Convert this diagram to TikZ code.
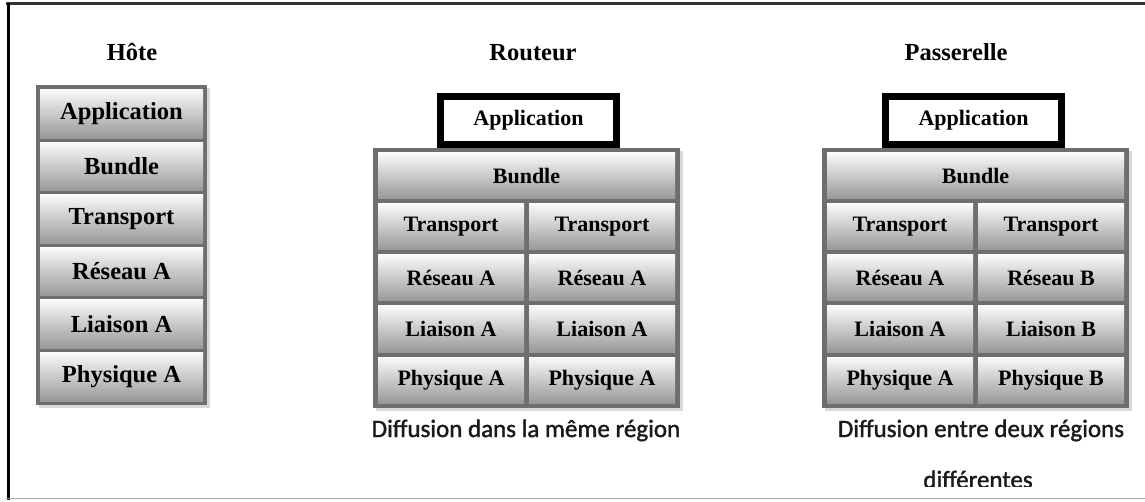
\documentclass[tikz,border=0pt]{standalone}
\usepackage{fontspec}
\setmainfont{Liberation Serif}
\newfontfamily\capfont[FakeBold=1.5]{Carlito}
\usetikzlibrary{shadows}

\definecolor{frameg}{HTML}{6E6E6E}
\definecolor{celltop}{HTML}{FAFAFA}
\definecolor{cellmid}{HTML}{E0E0E0}
\definecolor{cellbot}{HTML}{989898}
\definecolor{captxt}{HTML}{1A1A1A}

\tikzset{
  stackframe/.style={fill=frameg, draw=none, inner sep=0pt, outer sep=0pt,
    drop shadow={shadow xshift=3pt, shadow yshift=-3pt, opacity=0.3}},
  cell/.style={inner sep=0pt, outer sep=0pt, top color=celltop, middle color=cellmid,
    bottom color=cellbot, text=black, minimum width=146pt, minimum height=46pt,
    font=\bfseries\fontsize{22}{24}\selectfont},
  widecell/.style={cell, minimum width=297pt},
  hostcell/.style={cell, minimum width=163pt, minimum height=48.6pt,
    font=\bfseries\fontsize{24.5}{28}\selectfont},
  appbox/.style={draw=black, line width=7pt, fill=white, inner sep=0pt,
    minimum width=176pt, minimum height=48pt,
    font=\bfseries\fontsize{22}{24}\selectfont},
  title/.style={font=\bfseries\fontsize{24.5}{28}\selectfont, anchor=base, inner sep=0pt},
  caption/.style={font=\capfont\fontsize{25}{30}\selectfont, text=captxt,
    anchor=base, inner sep=0pt},
}

\begin{document}
\begin{tikzpicture}[x=1pt,y=-1pt]
\useasboundingbox (0,0) rectangle (1145,502);

% page frame
\draw[line width=3pt, black!80] (6,4) -- (1145,4);
\draw[line width=3pt, black] (8,3) -- (8,500);
\draw[line width=1.2pt, black!35] (6,498.5) -- (1145,498.5);

% ---------- Host ----------
\node[title] (tHote) at (132,61) {Hôte};
\node[stackframe, minimum width=171pt, minimum height=319.6pt] (hStack) at (121.5,245.3) {};
\node[hostcell] (hApp) at (121.5,113.8) {Application};
\node[hostcell] (hBun) at (121.5,166.4) {Bundle};
\node[hostcell] (hTra) at (121.5,219.0) {Transport};
\node[hostcell] (hRes) at (121.5,271.6) {Réseau A};
\node[hostcell] (hLia) at (121.5,324.2) {Liaison A};
\node[hostcell] (hPhy) at (121.5,376.8) {Physique A};

% ---------- Router ----------
\node[title] (tRout) at (533,61) {Routeur};
\node[stackframe, minimum width=307pt, minimum height=260pt] (rStack) at (526.5,278) {};
\node[appbox] (rApp) at (528.5,120.5) {Application};
\node[widecell] (rBun) at (526.5,176) {Bundle};
\node[cell] (rTraL) at (451,227) {Transport};
\node[cell] (rTraR) at (602,227) {Transport};
\node[cell] (rResL) at (451,278) {Réseau A};
\node[cell] (rResR) at (602,278) {Réseau A};
\node[cell] (rLiaL) at (451,329) {Liaison A};
\node[cell] (rLiaR) at (602,329) {Liaison A};
\node[cell] (rPhyL) at (451,380) {Physique A};
\node[cell] (rPhyR) at (602,380) {Physique A};
\node[caption] (cRout) at (526,437) {Diffusion dans la même région};

% ---------- Gateway ----------
\node[title] (tPass) at (956,61) {Passerelle};
\node[stackframe, minimum width=307pt, minimum height=260pt] (gStack) at (975.5,278) {};
\node[appbox] (gApp) at (973.5,120.5) {Application};
\node[widecell] (gBun) at (975.5,176) {Bundle};
\node[cell] (gTraL) at (900,227)  {Transport};
\node[cell] (gTraR) at (1051,227) {Transport};
\node[cell] (gResL) at (900,278)  {Réseau A};
\node[cell] (gResR) at (1051,278) {Réseau B};
\node[cell] (gLiaL) at (900,329)  {Liaison A};
\node[cell] (gLiaR) at (1051,329) {Liaison B};
\node[cell] (gPhyL) at (900,380)  {Physique A};
\node[cell] (gPhyR) at (1051,380) {Physique B};
\node[caption] (cPass1) at (981,437) {Diffusion entre deux régions};
\begin{scope}
  \clip (800,450) rectangle (1145,486);
  \node[caption] (cPass2) at (978,488) {différentes};
\end{scope}
\end{tikzpicture}
\end{document}
